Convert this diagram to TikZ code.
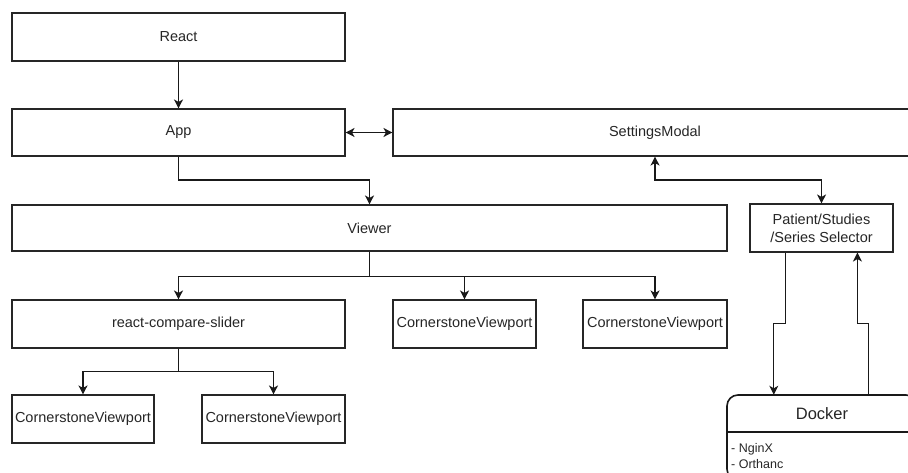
\documentclass[tikz,border=0pt]{standalone}
\usepackage{fontspec}
\setmainfont{Liberation Sans}
\usetikzlibrary{arrows.meta,calc}
\tikzset{
  box/.style={draw=black!85, line width=1.1pt, rectangle, inner sep=0pt, align=center,
    font=\fontsize{14.5}{18}\selectfont, text=black!85},
  arr/.style={draw=black!90, line width=1.1pt, -{Stealth[length=9pt,width=9pt,inset=2.5pt]}},
  darr/.style={draw=black!90, line width=1.1pt, {Stealth[length=9pt,width=9pt,inset=2.5pt]}-{Stealth[length=9pt,width=9pt,inset=2.5pt]}},
  line/.style={draw=black!90, line width=1.1pt}
}
\begin{document}
\begin{tikzpicture}[x=1pt,y=-1pt]
\useasboundingbox (0,0) rectangle (908,473);
\clip (0,0) rectangle (908,473);
\fill[white] (0,0) rectangle (908,473);

\node[box, minimum width=333pt, minimum height=48pt] (react) at (178.5,37) {React};
\node[box, minimum width=333pt, minimum height=47pt] (app) at (178.5,132.5) {App};
\node[box, minimum width=524pt, minimum height=47pt] (settings) at (655,132.5) {SettingsModal};
\node[box, minimum width=715pt, minimum height=46pt] (viewer) at (369.5,228) {Viewer};
\node[box, minimum width=143pt, minimum height=48pt] (selector) at (821.5,228) {Patient/Studies\\/Series Selector};
\node[box, minimum width=333pt, minimum height=48pt] (rcs) at (178.5,324) {react-compare-slider};
\node[box, minimum width=143pt, minimum height=48pt] (cv1) at (464.5,324) {CornerstoneViewport};
\node[box, minimum width=144pt, minimum height=48pt] (cv2) at (655,324) {CornerstoneViewport};
\node[box, minimum width=142pt, minimum height=48pt] (cv3) at (83,419) {CornerstoneViewport};
\node[box, minimum width=143pt, minimum height=48pt] (cv4) at (273.5,419) {CornerstoneViewport};

% Docker container
\node[draw=none, minimum width=190pt, minimum height=37pt, inner sep=0pt,
  font=\fontsize{16.5}{19}\selectfont, text=black!85] (docker) at (822,413.5) {Docker};
\draw[draw=black!90, line width=1.6pt, rounded corners=11pt] (727,395) rectangle (917,480);
\draw[draw=black!90, line width=1.6pt] (docker.south west) -- (docker.south east);
\node[anchor=north west, inner sep=0pt, align=left, font=\fontsize{12.5}{16}\selectfont, text=black!85]
  (dockerbody) at (731,443) {- NginX\\- Orthanc};

% connectors
\draw[arr] (react) -- (app);
\draw[darr] (app.east) -- (settings.west);
\coordinate (b1) at (369.5,180);
\draw[arr] (app.south) |- (b1) -- (viewer.north);
\coordinate (b2) at (821.5,180);
\draw[darr] (settings.south) |- (b2) -- (selector.north);

\draw[arr] (viewer.south) -- ++(0,25) -| (rcs.north);
\draw[arr] (viewer.south) -- ++(0,25) -| (cv1.north);
\draw[arr] (viewer.south) -- ++(0,25) -| (cv2.north);

\draw[arr] (rcs.south) -- ++(0,23) -| (cv3.north);
\draw[arr] (rcs.south) -- ++(0,23) -| (cv4.north);

\coordinate (s1) at ($(selector.south west)+(36,0)$);
\coordinate (d1) at ($(docker.north west)+(47,0)$);
\draw[arr] (s1) -- ++(0,71) -| (d1);
\coordinate (s2) at ($(selector.south west)+(108,0)$);
\coordinate (d2) at ($(docker.north west)+(142,0)$);
\draw[arr] (d2) -- ++(0,-71) -| (s2);
\end{tikzpicture}
\end{document}
